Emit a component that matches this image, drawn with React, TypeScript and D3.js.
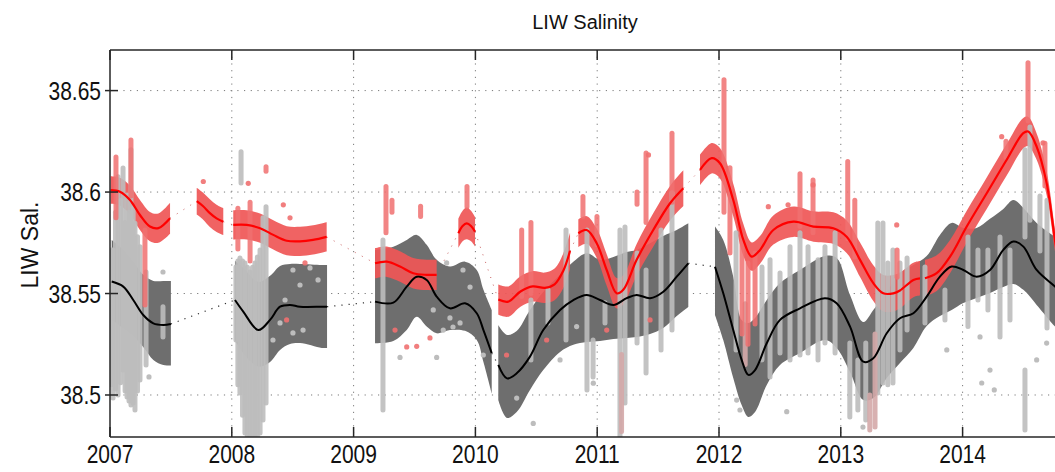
import * as d3 from "d3";

type RedRow = [number, number, number]; // year, mean, half width
type BlackRow = [number, number, number, number]; // year, mean, lo, hi
type Col = [number, number, number]; // year, lo, hi
type Pt = [number, number];

const yearTicks = [2007, 2008, 2009, 2010, 2011, 2012, 2013, 2014];
const salTicks = [38.5, 38.55, 38.6, 38.65];
const salLabels = ["38.5", "38.55", "38.6", "38.65"];

// red series (upper level) segments
const red2007a: RedRow[] = [
  [2007.005, 38.601, 0.0068], [2007.082, 38.6002, 0.0068], [2007.164, 38.5961, 0.007],
  [2007.246, 38.5887, 0.0074], [2007.328, 38.583, 0.0072], [2007.397, 38.5822, 0.0072],
  [2007.493, 38.5871, 0.0076],
];
const red2007b: RedRow[] = [
  [2007.712, 38.5955, 0.0066], [2007.765, 38.593, 0.0066], [2007.82, 38.5896, 0.0068],
  [2007.875, 38.587, 0.0067], [2007.93, 38.5854, 0.0066],
];
const red2008: RedRow[] = [
  [2008.012, 38.5838, 0.0072], [2008.122, 38.5838, 0.0072], [2008.232, 38.5822, 0.0072],
  [2008.341, 38.5789, 0.0072], [2008.451, 38.576, 0.0072], [2008.56, 38.5757, 0.0072],
  [2008.667, 38.5764, 0.0072], [2008.779, 38.5779, 0.0072],
];
const red2009a: RedRow[] = [
  [2009.176, 38.5649, 0.0075], [2009.272, 38.5657, 0.0075], [2009.381, 38.5633, 0.0075],
  [2009.49, 38.56, 0.0075], [2009.6, 38.5592, 0.0075], [2009.682, 38.5592, 0.0075],
];
const red2009b: RedRow[] = [
  [2009.86, 38.5797, 0.0072], [2009.895, 38.5833, 0.0075], [2009.929, 38.5846, 0.0078],
  [2009.964, 38.5833, 0.0075], [2009.997, 38.5805, 0.0072],
];
const red2010: RedRow[] = [
  [2010.188, 38.547, 0.0075], [2010.27, 38.546, 0.0075], [2010.37, 38.551, 0.0075],
  [2010.47, 38.5535, 0.0075], [2010.57, 38.5528, 0.0075], [2010.65, 38.5545, 0.0078],
  [2010.72, 38.561, 0.0085], [2010.777, 38.571, 0.009],
];
const red2011: RedRow[] = [
  [2010.845, 38.5797, 0.0068], [2010.914, 38.5813, 0.0068], [2010.996, 38.5748, 0.0072],
  [2011.078, 38.5616, 0.0078], [2011.16, 38.5501, 0.0075], [2011.214, 38.5518, 0.0072],
  [2011.324, 38.5666, 0.0078], [2011.46, 38.5813, 0.0082], [2011.598, 38.5945, 0.0085],
  [2011.707, 38.6019, 0.0088],
];
const red2012: RedRow[] = [
  [2011.844, 38.6109, 0.0075], [2011.94, 38.6167, 0.0075], [2012.008, 38.6142, 0.0075],
  [2012.117, 38.5961, 0.008], [2012.2, 38.5764, 0.0078], [2012.268, 38.5682, 0.007],
  [2012.337, 38.5715, 0.0068], [2012.446, 38.5813, 0.0072], [2012.611, 38.5854, 0.0075],
  [2012.775, 38.583, 0.0075], [2012.939, 38.5822, 0.0078], [2013.048, 38.578, 0.008],
  [2013.158, 38.5666, 0.0085], [2013.267, 38.5551, 0.0088], [2013.349, 38.5501, 0.009],
  [2013.431, 38.5501, 0.009], [2013.486, 38.5515, 0.0088], [2013.596, 38.5567, 0.0085],
  [2013.65, 38.5575, 0.0085],
];
const red2014: RedRow[] = [
  [2013.691, 38.5575, 0.009], [2013.787, 38.56, 0.0088], [2013.897, 38.5682, 0.0082],
  [2014.034, 38.583, 0.0078], [2014.198, 38.5994, 0.0078], [2014.362, 38.6159, 0.0078],
  [2014.498, 38.629, 0.0075], [2014.539, 38.6298, 0.0072], [2014.608, 38.6224, 0.0065],
  [2014.69, 38.6044, 0.006], [2014.758, 38.5764, 0.0055], [2014.8, 38.56, 0.0055],
];
const redSegments = [red2007a, red2007b, red2008, red2009a, red2009b, red2010, red2011, red2012, red2014];

// black series (lower level) segments
const black2007: BlackRow[] = [
  [2007.014, 38.5559, 38.537, 38.5764], [2007.109, 38.5534, 38.533, 38.5715],
  [2007.191, 38.5468, 38.5291, 38.5656], [2007.273, 38.5394, 38.5237, 38.5592],
  [2007.356, 38.5353, 38.5173, 38.5562], [2007.438, 38.5345, 38.5148, 38.5562],
  [2007.5, 38.535, 38.5145, 38.5562],
];
const black2008: BlackRow[] = [
  [2008.026, 38.5468, 38.5271, 38.5661], [2008.094, 38.5411, 38.5206, 38.5626],
  [2008.218, 38.532, 38.514, 38.5557], [2008.314, 38.537, 38.5163, 38.5587],
  [2008.396, 38.5435, 38.5222, 38.5636], [2008.478, 38.5444, 38.5251, 38.5646],
  [2008.56, 38.5435, 38.5256, 38.5646], [2008.738, 38.5435, 38.5232, 38.5641],
  [2008.782, 38.5435, 38.5232, 38.5641],
];
const black2009: BlackRow[] = [
  [2009.176, 38.546, 38.5255, 38.5715], [2009.326, 38.5455, 38.5266, 38.5731],
  [2009.436, 38.5534, 38.532, 38.5764], [2009.518, 38.5583, 38.5385, 38.5789],
  [2009.6, 38.5567, 38.5337, 38.574], [2009.682, 38.5485, 38.5304, 38.5666],
  [2009.791, 38.5427, 38.532, 38.5633], [2009.915, 38.5452, 38.5316, 38.5657],
  [2010.011, 38.5403, 38.5271, 38.5616], [2010.066, 38.532, 38.5163, 38.5518],
  [2010.134, 38.5206, 38.5008, 38.5419],
];
const black2010: BlackRow[] = [
  [2010.188, 38.5148, 38.4975, 38.5345], [2010.259, 38.5082, 38.4887, 38.5296],
  [2010.339, 38.5107, 38.4916, 38.5315], [2010.448, 38.5189, 38.5025, 38.5419],
  [2010.557, 38.532, 38.5123, 38.5508], [2010.695, 38.5419, 38.5212, 38.5592],
  [2010.804, 38.5468, 38.5247, 38.5656], [2010.914, 38.5493, 38.5261, 38.5699],
  [2011.023, 38.5468, 38.5266, 38.5666], [2011.133, 38.5444, 38.5276, 38.568],
  [2011.242, 38.5477, 38.5281, 38.5705], [2011.324, 38.5493, 38.5286, 38.5715],
  [2011.434, 38.5477, 38.5301, 38.5748], [2011.543, 38.5509, 38.533, 38.5784],
  [2011.653, 38.5583, 38.5389, 38.5813], [2011.748, 38.5649, 38.5434, 38.5846],
];
const black2012: BlackRow[] = [
  [2011.967, 38.5632, 38.5394, 38.583], [2012.035, 38.5501, 38.5271, 38.5764],
  [2012.117, 38.532, 38.5084, 38.5583], [2012.186, 38.5173, 38.4951, 38.537],
  [2012.241, 38.5099, 38.4892, 38.5355], [2012.296, 38.5123, 38.4916, 38.538],
  [2012.392, 38.5255, 38.5049, 38.5468], [2012.501, 38.537, 38.5148, 38.5552],
  [2012.665, 38.5427, 38.5207, 38.5616], [2012.87, 38.5477, 38.5271, 38.5685],
  [2012.966, 38.5452, 38.5232, 38.5675], [2013.076, 38.5337, 38.5113, 38.5493],
  [2013.185, 38.5164, 38.4975, 38.536], [2013.267, 38.5181, 38.4985, 38.5419],
  [2013.377, 38.5304, 38.5084, 38.5508], [2013.486, 38.5378, 38.5158, 38.5601],
  [2013.596, 38.5403, 38.5232, 38.5641], [2013.705, 38.5485, 38.534, 38.5685],
  [2013.814, 38.5583, 38.5389, 38.5789], [2013.91, 38.5633, 38.5419, 38.5848],
  [2014.006, 38.5616, 38.5453, 38.5823], [2014.115, 38.5583, 38.5478, 38.5823],
  [2014.225, 38.5616, 38.5503, 38.5868], [2014.334, 38.5715, 38.5532, 38.5917],
  [2014.417, 38.5756, 38.5547, 38.5961], [2014.499, 38.5731, 38.5518, 38.5922],
  [2014.608, 38.5616, 38.5444, 38.5848], [2014.759, 38.5534, 38.5337, 38.5779],
  [2014.82, 38.55, 38.53, 38.575],
];
const blackSegments = [black2007, black2008, black2009, black2010, black2012];

// observation profiles: year, min, max
const grayProfiles: Col[] = [
  [2007.012, 38.505, 38.5715], [2007.025, 38.4985, 38.5715], [2007.045, 38.503, 38.59],
  [2007.066, 38.5, 38.6075], [2007.087, 38.506, 38.596], [2007.107, 38.5123, 38.6119],
  [2007.124, 38.502, 38.585], [2007.14, 38.499, 38.5985], [2007.156, 38.497, 38.59],
  [2007.172, 38.4951, 38.6208], [2007.19, 38.496, 38.592], [2007.205, 38.4926, 38.5846],
  [2007.226, 38.502, 38.578], [2007.246, 38.5074, 38.573], [2007.296, 38.5148, 38.5606],
  [2007.435, 38.5286, 38.5435],
  [2008.034, 38.5271, 38.5631], [2008.05, 38.505, 38.566], [2008.067, 38.501, 38.5675],
  [2008.088, 38.49, 38.566], [2008.108, 38.4813, 38.5651], [2008.128, 38.4793, 38.563],
  [2008.149, 38.4793, 38.5606], [2008.17, 38.4793, 38.563], [2008.19, 38.4793, 38.5651],
  [2008.21, 38.4793, 38.568], [2008.232, 38.4813, 38.5715], [2008.256, 38.4877, 38.5873],
  [2008.281, 38.4961, 38.5928], [2008.076, 38.6045, 38.6198],
  [2009.241, 38.4926, 38.5764],
  [2010.456, 38.5173, 38.5468], [2010.596, 38.5355, 38.5518], [2010.744, 38.5271, 38.5813],
  [2010.916, 38.5025, 38.5813], [2010.966, 38.5089, 38.5271], [2011.064, 38.5355, 38.5454],
  [2011.187, 38.4793, 38.5813], [2011.228, 38.4961, 38.5828], [2011.327, 38.5256, 38.57],
  [2011.401, 38.5108, 38.5616], [2011.524, 38.5222, 38.5813], [2011.614, 38.532, 38.5996],
  [2012.14, 38.5222, 38.5799], [2012.353, 38.5173, 38.5631], [2012.419, 38.5089, 38.5666],
  [2012.501, 38.5207, 38.5601], [2012.583, 38.5173, 38.573], [2012.665, 38.5197, 38.5799],
  [2012.731, 38.5207, 38.573], [2012.813, 38.5173, 38.5666], [2012.87, 38.5256, 38.573],
  [2012.953, 38.5207, 38.5799], [2013.074, 38.4892, 38.5256], [2013.14, 38.4926, 38.5173],
  [2013.205, 38.4877, 38.5256], [2013.304, 38.501, 38.5848], [2013.386, 38.505, 38.5651],
  [2013.346, 38.5059, 38.5848], [2013.428, 38.5059, 38.5715],
  [2013.486, 38.5222, 38.5651], [2013.544, 38.532, 38.5675], [2013.691, 38.5355, 38.5631],
  [2013.855, 38.537, 38.5517], [2014.044, 38.5337, 38.5779], [2014.126, 38.5468, 38.5715],
  [2014.208, 38.5419, 38.5715], [2014.307, 38.5286, 38.5779], [2014.389, 38.537, 38.5715],
  [2014.512, 38.5779, 38.6208], [2014.512, 38.4827, 38.5123], [2014.553, 38.5861, 38.6321],
  [2014.635, 38.571, 38.5981], [2014.693, 38.533, 38.596],
];
// profiles where red and gray samples overlap (pinkish grey)
const mixedProfiles: Col[] = [
  [2013.238, 38.4827, 38.5], [2013.281, 38.4842, 38.53], [2012.215, 38.515, 38.545],
  [2011.2, 38.482, 38.52],
];
const grayDots: Pt[] = [
  [2007.32, 38.5089], [2007.435, 38.5606], [2008.338, 38.5271], [2008.396, 38.5355],
  [2008.502, 38.5306], [2008.585, 38.532], [2008.502, 38.5616], [2008.642, 38.5626],
  [2008.437, 38.5468], [2008.56, 38.5542], [2008.708, 38.5567], [2009.381, 38.5185],
  [2009.682, 38.5185], [2009.654, 38.5419], [2009.764, 38.5651], [2009.791, 38.538],
  [2009.874, 38.5355], [2009.736, 38.532], [2009.816, 38.5335], [2009.898, 38.5616],
  [2009.956, 38.5532], [2010.065, 38.5197], [2010.339, 38.4985], [2010.475, 38.486],
  [2010.695, 38.5173], [2010.831, 38.5337], [2010.968, 38.5058], [2012.556, 38.4918],
  [2012.145, 38.4975], [2012.172, 38.4926], [2013.182, 38.4842], [2014.143, 38.5286],
  [2014.225, 38.5123], [2014.157, 38.5059], [2014.608, 38.5173], [2014.69, 38.5256],
  [2013.87, 38.5222], [2014.26, 38.5025],
];
const redProfiles: Col[] = [
  [2007.049, 38.5873, 38.6173], [2007.172, 38.598, 38.6257], [2007.287, 38.5444, 38.5813],
  [2008.281, 38.6103, 38.6125], [2008.05, 38.572, 38.592], [2008.15, 38.566, 38.595],
  [2009.266, 38.58, 38.6027], [2009.315, 38.59, 38.596], [2009.55, 38.588, 38.593],
  [2009.931, 38.5928, 38.6027], [2010.38, 38.5485, 38.5813], [2010.456, 38.55, 38.585],
  [2010.883, 38.588, 38.5978], [2010.998, 38.574, 38.588], [2011.327, 38.594, 38.6],
  [2011.401, 38.585, 38.6193], [2011.614, 38.595, 38.629], [2012.041, 38.59, 38.6553],
  [2012.09, 38.57, 38.612], [2012.189, 38.53, 38.578], [2012.238, 38.525, 38.565],
  [2012.296, 38.535, 38.57], [2012.665, 38.583, 38.609], [2012.772, 38.58, 38.606],
  [2013.057, 38.577, 38.615], [2013.115, 38.568, 38.596],
  [2013.462, 38.558, 38.5715], [2014.356, 38.617, 38.625], [2014.537, 38.635, 38.6637],
  [2014.676, 38.603, 38.624],
];
const redDots: Pt[] = [
  [2007.766, 38.6052], [2008.135, 38.6043], [2008.423, 38.5937], [2008.478, 38.5873],
  [2008.45, 38.537], [2008.601, 38.5651], [2009.34, 38.532], [2009.436, 38.5237],
  [2009.518, 38.524], [2009.627, 38.5281], [2010.256, 38.5197], [2011.078, 38.532],
  [2011.434, 38.537], [2010.585, 38.5271], [2011.421, 38.6183], [2012.405, 38.5928],
  [2012.567, 38.5937], [2012.772, 38.6035], [2013.459, 38.5838], [2014.321, 38.6273],
  [2014.66, 38.6242],
];

const W = 1055;
const H = 472;
const LEFT = 110;
const TOP = 50;
const BOTTOM = 437;
const RIGHT = 1055;

const x = d3.scaleLinear().domain([2007, 2015]).range([LEFT, LEFT + 8 * 121.8]);
const y = d3.scaleLinear().domain([38.4793, 38.67]).range([BOTTOM, TOP]);
const curve = d3.curveCatmullRom.alpha(0.5);

const redArea = d3.area<RedRow>().x((d) => x(d[0])).y0((d) => y(d[1] - d[2])).y1((d) => y(d[1] + d[2])).curve(curve);
const redLine = d3.line<RedRow>().x((d) => x(d[0])).y((d) => y(d[1])).curve(curve);
const blackArea = d3.area<BlackRow>().x((d) => x(d[0])).y0((d) => y(d[2])).y1((d) => y(d[3])).curve(curve);
const blackLine = d3.line<BlackRow>().x((d) => x(d[0])).y((d) => y(d[1])).curve(curve);

// dotted links between the end of one fitted piece and the start of the next
function gaps<T extends number[]>(segs: T[][]) {
  return segs.slice(1).map((s, i) => {
    const a = segs[i][segs[i].length - 1];
    return [x(a[0]), y(a[1]), x(s[0][0]), y(s[0][1])];
  });
}

const font = "'Liberation Sans', Arial, Helvetica, sans-serif";

export default function App() {
  return (
    <svg width={W} height={H} style={{ position: "absolute", left: 0, top: 0 }} fontFamily={font}>
      <defs>
        <clipPath id="plot">
          <rect x={LEFT} y={TOP} width={RIGHT - LEFT} height={BOTTOM - TOP} />
        </clipPath>
      </defs>
      <rect width={W} height={H} fill="#fff" />

      {/* grid */}
      <g stroke="#7a7a7a" strokeWidth={1} strokeDasharray="1.2 5.5">
        {yearTicks.slice(1).map((t) => (
          <line key={t} x1={x(t)} x2={x(t)} y1={TOP} y2={BOTTOM} />
        ))}
        {salTicks.map((t) => (
          <line key={t} x1={LEFT} x2={RIGHT} y1={y(t)} y2={y(t)} />
        ))}
      </g>

      <g clipPath="url(#plot)">
        {gaps(blackSegments).map((g, i) => (
          <line key={"bg" + i} x1={g[0]} y1={g[1]} x2={g[2]} y2={g[3]} stroke="#333" strokeWidth={1.2} strokeDasharray="1.2 6" />
        ))}
        {gaps(redSegments).map((g, i) => (
          <line key={"rg" + i} x1={g[0]} y1={g[1]} x2={g[2]} y2={g[3]} stroke="#c86060" strokeWidth={1} strokeDasharray="1 7" />
        ))}

        {blackSegments.map((s, i) => (
          <path key={"ba" + i} d={blackArea(s) ?? ""} fill="#6e6e6e" />
        ))}
        {redSegments.map((s, i) => (
          <path key={"ra" + i} d={redArea(s) ?? ""} fill="#ef5656" opacity={0.92} />
        ))}

        {grayProfiles.map((c, i) => (
          <line key={"gp" + i} x1={x(c[0])} x2={x(c[0])} y1={y(c[1])} y2={y(c[2])} stroke="#bdbdbd" strokeWidth={5} strokeLinecap="round" opacity={0.9} />
        ))}
        {mixedProfiles.map((c, i) => (
          <line key={"mp" + i} x1={x(c[0])} x2={x(c[0])} y1={y(c[1])} y2={y(c[2])} stroke="#d4a9a9" strokeWidth={5} strokeLinecap="round" opacity={0.9} />
        ))}
        {grayDots.map((p, i) => (
          <circle key={"gd" + i} cx={x(p[0])} cy={y(p[1])} r={2.6} fill="#bdbdbd" />
        ))}
        {redProfiles.map((c, i) => (
          <line key={"rp" + i} x1={x(c[0])} x2={x(c[0])} y1={y(c[1])} y2={y(c[2])} stroke="#f07070" strokeWidth={5} strokeLinecap="round" opacity={0.85} />
        ))}
        {redDots.map((p, i) => (
          <circle key={"rd" + i} cx={x(p[0])} cy={y(p[1])} r={2.6} fill="#f07070" opacity={0.9} />
        ))}

        {blackSegments.map((s, i) => (
          <path key={"bl" + i} d={blackLine(s) ?? ""} fill="none" stroke="#000" strokeWidth={2} />
        ))}
        {redSegments.map((s, i) => (
          <path key={"rl" + i} d={redLine(s) ?? ""} fill="none" stroke="#ff0000" strokeWidth={2.2} />
        ))}
      </g>

      {/* frame and ticks */}
      <g stroke="#262626" strokeWidth={1.5} fill="none">
        <line x1={LEFT} x2={RIGHT} y1={TOP} y2={TOP} />
        <line x1={LEFT} x2={RIGHT} y1={BOTTOM} y2={BOTTOM} />
        <line x1={LEFT} x2={LEFT} y1={TOP} y2={BOTTOM} />
        {yearTicks.map((t) => (
          <g key={t}>
            <line x1={x(t)} x2={x(t)} y1={BOTTOM} y2={BOTTOM - 10} />
            <line x1={x(t)} x2={x(t)} y1={TOP} y2={TOP + 10} />
          </g>
        ))}
        {salTicks.map((t) => (
          <line key={t} x1={LEFT - 5} x2={LEFT + 8} y1={y(t)} y2={y(t)} />
        ))}
      </g>

      <g fontSize={21} fill="#111">
        {yearTicks.map((t) => (
          <text key={t} transform={`translate(${x(t)},${BOTTOM + 26}) scale(1,1.22)`} textAnchor="middle">
            {t}
          </text>
        ))}
        {salTicks.map((t, i) => (
          <text key={t} transform={`translate(${LEFT - 9},${y(t) + 9}) scale(1,1.22)`} textAnchor="end">
            {salLabels[i]}
          </text>
        ))}
      </g>

      <text transform="translate(38,245) rotate(-90)" textAnchor="middle" fontSize={23} fill="#111">
        LIW Sal.
      </text>
      <text x={585} y={29} textAnchor="middle" fontSize={20} fill="#111">
        LIW Salinity
      </text>
    </svg>
  );
}
